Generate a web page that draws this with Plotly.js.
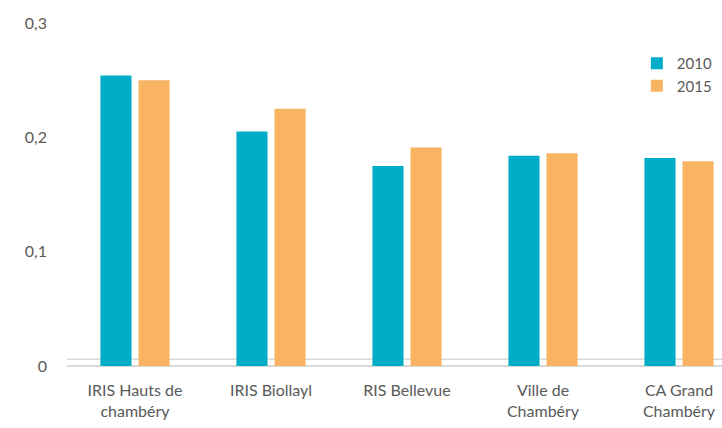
<!DOCTYPE html>
<html><head><meta charset="utf-8">
<script src="https://cdn.plot.ly/plotly-3.0.1.min.js"></script>
<style>html,body{margin:0;padding:0;background:#fff}#c{width:722px;height:428px}</style>
</head><body><div id="c"></div>
<script>
const categories = ["IRIS Hauts de<br>chambéry", "IRIS Biollayl", "RIS Bellevue", "Ville de<br>Chambéry", "CA Grand<br>Chambéry"];
const values2010 = [0.254, 0.205, 0.175, 0.184, 0.182];
const values2015 = [0.250, 0.225, 0.191, 0.186, 0.179];
const yTickVals = [0, 0.1, 0.2, 0.3];
const yTickText = ["0", "0,1", "0,2", "0,3"];
const idx = categories.map((c, i) => i);

const font = {family: "Lato, 'Open Sans', sans-serif", size: 16, color: "#595959"};
const legFont = {family: "Lato, 'Open Sans', sans-serif", size: 15, color: "#595959"};
const traces = [
  {type: "bar", name: "2010", x: idx, y: values2010, marker: {color: "#00ADC6"}, hoverinfo: "skip"},
  {type: "bar", name: "2015", x: idx, y: values2015, marker: {color: "#F8B462"}, hoverinfo: "skip"}
];
const layout = {
  width: 722, height: 428,
  margin: {l: 67, r: 0, t: 23, b: 62},
  paper_bgcolor: "#fff", plot_bgcolor: "#fff",
  font: font,
  barmode: "group", bargap: 0.44, bargroupgap: 0.184,
  showlegend: true,
  legend: {x: 0.87, y: 0.93, xanchor: "left", yanchor: "top", font: legFont, bgcolor: "rgba(0,0,0,0)", tracegroupgap: 0, itemwidth: 30},
  xaxis: {range: [-0.5, 4.316], tickvals: idx, ticktext: categories, showgrid: false, zeroline: false, showline: false, ticks: "", ticklabelstandoff: 13, tickfont: font, fixedrange: true},
  yaxis: {range: [0, 0.3], tickvals: yTickVals, ticktext: yTickText, showgrid: false, zeroline: true, zerolinecolor: "#d9d9d9", zerolinewidth: 1.5, showline: false, ticks: "", ticklabelstandoff: 19, tickfont: font, fixedrange: true},
  shapes: [{type: "line", xref: "paper", yref: "y", x0: 0, x1: 1, y0: 0.006, y1: 0.006, line: {color: "#d9d9d9", width: 1.5}, layer: "below"}]
};
Plotly.newPlot("c", traces, layout, {displayModeBar: false, staticPlot: true});
</script></body></html>
